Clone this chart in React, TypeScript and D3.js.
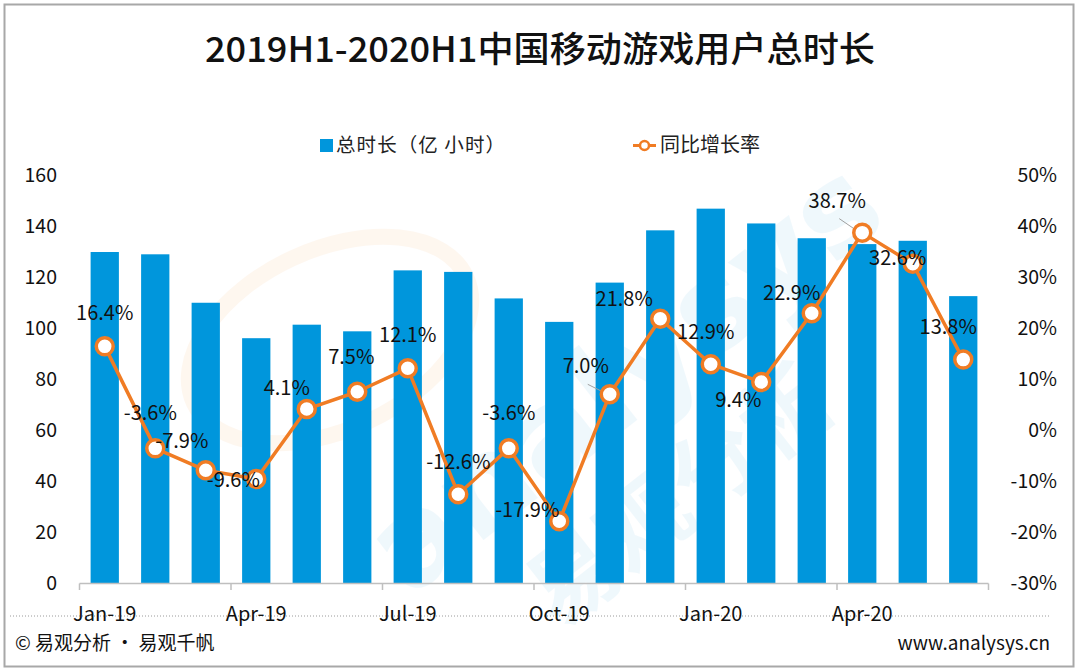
import * as d3 from "d3";

const months = [
  "Jan-19", "Feb-19", "Mar-19", "Apr-19", "May-19", "Jun-19",
  "Jul-19", "Aug-19", "Sep-19", "Oct-19", "Nov-19", "Dec-19",
  "Jan-20", "Feb-20", "Mar-20", "Apr-20", "May-20", "Jun-20",
];
const hours = [
  129.8, 128.9, 109.9, 96.0, 101.3, 98.7, 122.6, 122.0, 111.6,
  102.4, 117.8, 138.3, 146.8, 141.0, 135.2, 132.9, 134.2, 112.5,
];
const growth = [
  16.4, -3.6, -7.9, -9.6, 4.1, 7.5, 12.1, -12.6, -3.6,
  -17.9, 7.0, 21.8, 12.9, 9.4, 22.9, 38.7, 32.6, 13.8,
];
const shownMonths = ["Jan-19", "Apr-19", "Jul-19", "Oct-19", "Jan-20", "Apr-20"];
const leftTicks = [0, 20, 40, 60, 80, 100, 120, 140, 160];
const rightTicks = [-30, -20, -10, 0, 10, 20, 30, 40, 50];

// label nudges (px) relative to each point
const labelNudge = [
  [0, -33], [-5, -35], [-24, -29], [-23, 1], [-20, -21], [-6, -35],
  [0, -33], [0, -32], [0, -35], [-32, -11], [-24, -28], [-36, -20],
  [-5, -32], [-23, 18], [-20, -20], [-25, -32], [-15, -6], [-15, -33],
];
const leaders = [10, 15];

const W = 1080;
const H = 672;
const font = "'Noto Sans CJK SC', 'Noto Sans', sans-serif";
const BLUE = "#0096dc";
const ORANGE = "#f07c24";

export default function App() {
  const x = d3.scaleBand().domain(months).range([79.5, 988.5]).paddingInner(0.44).paddingOuter(0.22);
  const yL = d3.scaleLinear().domain([0, 160]).range([583, 175]);
  const yR = d3.scaleLinear().domain([-30, 50]).range([583, 175]);
  const step = x.step();
  const cx = (m: string) => x(m)! + x.bandwidth() / 2;

  const line = d3
    .line<number>()
    .x((_, i) => cx(months[i]))
    .y((d) => yR(d));

  const tickXs = d3.range(0, months.length + 1, 3).map((i) => 79.5 + i * step);

  return (
    <svg
      width={W}
      height={H}
      style={{ position: "absolute", left: 0, top: 0, background: "#fff" }}
      fontFamily={font}
    >
      <rect x={4.5} y={4.5} width={1069} height={662} fill="#fff" stroke="#a8a8a8" strokeWidth={2} />

      {/* watermark */}
      <g opacity={0.35}>
        <ellipse cx={330} cy={340} rx={150} ry={90} transform="rotate(-25 330 340)" fill="none" stroke="#fde9d4" strokeWidth={16} />
        <text x={650} y={410} transform="rotate(-38 650 410)" fontSize={125} fontWeight={700} fill="#d4ecf9" textAnchor="middle" fontFamily="'DejaVu Sans', sans-serif">
          analysys
        </text>
        <text x={700} y={520} transform="rotate(-38 700 520)" fontSize={90} fontWeight={700} fill="#d4ecf9" textAnchor="middle">
          易观分析
        </text>
      </g>

      <text x={540} y={62} textAnchor="middle" fontSize={35} fontWeight={500} fill="#111" textLength={670} lengthAdjust="spacingAndGlyphs">
        2019H1-2020H1中国移动游戏用户总时长
      </text>

      {/* legend */}
      <rect x={320} y={139} width={13} height={13} fill={BLUE} />
      <text x={336} y={152} fontSize={19.5} fill="#222" textLength={169} lengthAdjust="spacing">总时长（亿 小时）</text>
      <line x1={633} x2={656} y1={145.5} y2={145.5} stroke={ORANGE} strokeWidth={3} />
      <circle cx={644.5} cy={145.5} r={4.5} fill="#fff" stroke={ORANGE} strokeWidth={2.5} />
      <text x={660} y={152} fontSize={20} fill="#222">同比增长率</text>

      {/* bars */}
      {hours.map((v, i) => (
        <rect key={months[i]} x={x(months[i])} y={yL(v)} width={x.bandwidth()} height={yL(0) - yL(v)} fill={BLUE} />
      ))}

      {/* x axis */}
      <line x1={79.5} x2={988.5} y1={583.5} y2={583.5} stroke="#bfbfbf" strokeWidth={1.5} />
      {tickXs.map((t) => (
        <line key={t} x1={t} x2={t} y1={583.5} y2={590} stroke="#bfbfbf" strokeWidth={1.5} />
      ))}
      <line x1={10} x2={1050} y1={616} y2={616} stroke="#9a9a9a" strokeWidth={1} strokeDasharray="1 2" />
      {shownMonths.map((m) => (
        <text key={m} x={cx(m)} y={621} textAnchor="middle" fontSize={20} fill="#111">
          {m}
        </text>
      ))}

      {/* y axes */}
      {leftTicks.map((t) => (
        <text key={t} x={57} y={yL(t) + 7} textAnchor="end" fontSize={19.5} fill="#111">
          {t}
        </text>
      ))}
      {rightTicks.map((t) => (
        <text key={t} x={1057} y={yR(t) + 7} textAnchor="end" fontSize={19.5} fill="#111">
          {t}%
        </text>
      ))}

      {/* growth line */}
      <path d={line(growth)!} fill="none" stroke={ORANGE} strokeWidth={3.5} strokeLinejoin="round" />
      {leaders.map((i) => (
        <line
          key={"l" + i}
          x1={cx(months[i]) + labelNudge[i][0] + 2}
          y1={yR(growth[i]) + labelNudge[i][1] + 18}
          x2={cx(months[i]) - 4}
          y2={yR(growth[i]) - 1}
          stroke="#a0a0a0"
          strokeWidth={1}
        />
      ))}
      {growth.map((v, i) => (
        <circle key={"c" + i} cx={cx(months[i])} cy={yR(v)} r={8.5} fill="#fff" stroke={ORANGE} strokeWidth={3.5} />
      ))}
      {growth.map((v, i) => (
        <text
          key={"t" + i}
          x={cx(months[i]) + labelNudge[i][0]}
          y={yR(v) + labelNudge[i][1] + 7}
          textAnchor="middle"
          fontSize={20}
          fill="#111"
        >
          {v.toFixed(1)}%
        </text>
      ))}

      {/* footer */}
      <text x={15} y={650} fontSize={19} fill="#111">© 易观分析 · 易观千帆</text>
      <text x={1050} y={650} textAnchor="end" fontSize={19} fill="#111">www.analysys.cn</text>
    </svg>
  );
}
